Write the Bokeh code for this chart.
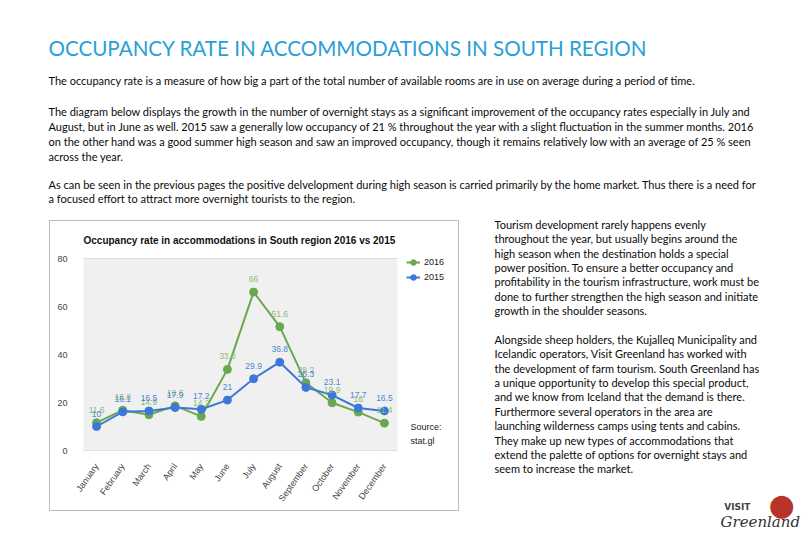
import math
from bokeh.plotting import figure
from bokeh.models import (Range1d, FixedTicker, Label, BoxAnnotation,
                          Legend, LegendItem, ColumnDataSource)
from bokeh.embed import file_html
from bokeh.resources import INLINE

# ---------------- data ----------------
months = ["January", "February", "March", "April", "May", "June", "July",
          "August", "September", "October", "November", "December"]
occ_2016 = [11.6, 16.8, 14.9, 18.6, 14.2, 33.8, 66, 51.6, 28.2, 19.9, 16.0, 11.4]
occ_2015 = [10, 16.1, 16.5, 17.9, 17.2, 21, 29.9, 36.8, 26.3, 23.1, 17.7, 16.5]
y_ticks = [0, 20, 40, 60, 80]
series_names = ["2016", "2015"]

page_title = "OCCUPANCY RATE IN ACCOMMODATIONS IN SOUTH REGION"
chart_title = "Occupancy rate in accommodations in South region 2016 vs 2015"
source_lines = ["Source:", "stat.gl"]
body_lines = [
    "The occupancy rate is a measure of how big a part of the total number of available rooms are in use on average during a period of time.",
    "The diagram below displays the growth in the number of overnight stays as a significant improvement of the occupancy rates especially in July and",
    "August, but in June as well. 2015 saw a generally low occupancy of 21 % throughout the year with a slight fluctuation in the summer months. 2016",
    "on the other hand was a good summer high season and saw an improved occupancy, though it remains relatively low with an average of 25 % seen",
    "across the year.",
    "As can be seen in the previous pages the positive delvelopment during high season is carried primarily by the home market. Thus there is a need for",
    "a focused effort to attract more overnight tourists to the region.",
]
side_lines = [
    "Tourism development rarely happens evenly",
    "throughout the year, but usually begins around the",
    "high season when the destination holds a special",
    "power position. To ensure a better occupancy and",
    "profitability in the tourism infrastructure, work must be",
    "done to further strengthen the high season and initiate",
    "growth in the shoulder seasons.",
    "Alongside sheep holders, the Kujalleq Municipality and",
    "Icelandic operators, Visit Greenland has worked with",
    "the development of farm tourism. South Greenland has",
    "a unique opportunity to develop this special product,",
    "and we know from Iceland that the demand is there.",
    "Furthermore several operators in the area are",
    "launching wilderness camps using tents and cabins.",
    "They make up new types of accommodations that",
    "extend the palette of options for overnight stays and",
    "seem to increase the market.",
]

# ---------------- layout constants (page pixels) ----------------
W, H = 806, 536
GREEN = "#6aa84f"
BLUE = "#3c78d8"
BODY_FONT = "Lato"
CHART_FONT = "Liberation Sans"

# plot area of the embedded chart, in page pixels
PA_L, PA_R, PA_T, PA_B = 83, 397, 258, 450
n = len(months)
step = (PA_R - PA_L) / n
x0_px = PA_L + step / 2                     # pixel of first category
ypx = (PA_B - PA_T) / (y_ticks[-1] - y_ticks[0])  # pixels per unit

x_range = Range1d(-x0_px / step, (W - x0_px) / step)
y_range = Range1d(-(H - PA_B) / ypx, PA_B / ypx)

p = figure(width=W, height=H, output_backend="svg", toolbar_location=None,
           x_range=x_range, y_range=y_range,
           min_border=0, min_border_left=0, min_border_right=0,
           min_border_top=0, min_border_bottom=0)
p.background_fill_color = "white"
p.border_fill_color = "white"
p.outline_line_color = None
p.grid.visible = False

idx = list(range(n))

# plot-area background and gridlines
p.add_layout(BoxAnnotation(left=-0.5, right=n - 0.5, bottom=y_ticks[0], top=y_ticks[-1],
                           fill_color="#f0f0f0", fill_alpha=1, line_color=None,
                           level="underlay"))
p.segment(x0=[-0.5] * len(y_ticks), x1=[n - 0.5] * len(y_ticks), y0=y_ticks, y1=y_ticks,
          line_color="#cccccc", line_width=1, level="underlay")

# axes fixed inside the page
p.yaxis.fixed_location = -0.5
p.yaxis.ticker = FixedTicker(ticks=y_ticks)
p.yaxis.axis_line_color = None
p.yaxis.major_tick_line_color = None
p.yaxis.minor_tick_line_color = None
p.yaxis.major_label_standoff = 10
p.yaxis.major_label_text_font = CHART_FONT
p.yaxis.major_label_text_font_size = "9px"
p.yaxis.major_label_text_color = "#444444"

p.xaxis.fixed_location = y_ticks[0]
p.xaxis.ticker = FixedTicker(ticks=idx)
p.xaxis.major_label_overrides = {i: m for i, m in zip(idx, months)}
p.xaxis.axis_line_color = None
p.xaxis.major_tick_line_color = None
p.xaxis.minor_tick_line_color = None
p.xaxis.major_label_orientation = math.radians(55)
p.xaxis.major_label_standoff = 8
p.xaxis.major_label_text_font = CHART_FONT
p.xaxis.major_label_text_font_size = "9px"
p.xaxis.major_label_text_color = "#444444"

src = ColumnDataSource(dict(
    i=idx, a=occ_2016, b=occ_2015,
    ta=[f"{v:g}" for v in occ_2016], tb=[f"{v:g}" for v in occ_2015]))

la = p.line("i", "a", source=src, line_color=GREEN, line_width=2)
sa = p.scatter("i", "a", source=src, size=8, fill_color=GREEN, line_color=GREEN)
lb = p.line("i", "b", source=src, line_color=BLUE, line_width=2)
sb = p.scatter("i", "b", source=src, size=8, fill_color=BLUE, line_color=BLUE)

p.text("i", "a", text="ta", source=src, y_offset=-13, text_align="center",
       text_baseline="middle", text_font_size="8.5px", text_color="#8dbb72",
       text_font={"value": CHART_FONT})
p.text("i", "b", text="tb", source=src, y_offset=-13, text_align="center",
       text_baseline="middle", text_font_size="8.5px", text_color="#4f84d6",
       text_font={"value": CHART_FONT})

LEG_X, LEG_TOP, LEG_ROW = 406, 255, 14
legend = Legend(items=[LegendItem(label=series_names[0], renderers=[la, sa]),
                       LegendItem(label=series_names[1], renderers=[lb, sb])],
                location=(LEG_X, H - (LEG_TOP + 2 * LEG_ROW + 1)),
                padding=0, margin=0, spacing=1,
                label_height=LEG_ROW, glyph_height=LEG_ROW, glyph_width=14,
                label_standoff=4, label_text_font=CHART_FONT,
                label_text_font_size="9px", label_text_color="#222222",
                border_line_color=None, background_fill_alpha=0)
p.add_layout(legend, "center")


def put(x, y, text, size, color="#111111", font=BODY_FONT, style="normal", align="left"):
    p.add_layout(Label(x=x, y=H - y, x_units="screen", y_units="screen",
                       text=text, text_font=font, text_font_size=size,
                       text_color=color, text_font_style=style,
                       text_align=align, text_baseline="middle"))


# chart frame border
p.add_layout(BoxAnnotation(left=49, right=458, top=H - 220, bottom=H - 510,
                           left_units="screen", right_units="screen",
                           top_units="screen", bottom_units="screen",
                           fill_alpha=0, line_color="#222222", line_width=1))

put(48, 47, page_title, "20.6px", color="#2a9fd6")
body_y = [80, 111, 126, 141, 156, 184, 198]
for yy, t in zip(body_y, body_lines):
    put(48, yy, t, "11px", color="#0a0a0a")
side_y = [224, 238, 253, 267, 281, 296, 310, 339, 353, 368, 382, 396, 411, 425, 440, 454, 468]
for yy, t in zip(side_y, side_lines):
    put(494, yy, t, "11px", color="#0a0a0a")

put(83, 240, chart_title, "10px", color="#111111", font=CHART_FONT, style="bold")
put(410, 426, source_lines[0], "9px", color="#222222", font=CHART_FONT)
put(410, 440, source_lines[1], "9px", color="#222222", font=CHART_FONT)

# logo
put(781, 504, "\u25CF", "30px", color="#b8342a", font="DejaVu Sans", align="center")
put(750, 506, "VISIT", "9px", color="#444444", font="DejaVu Sans", style="bold", align="right")
put(720, 521, "Greenland", "15px", color="#333333", font="DejaVu Serif", style="italic")

open("out.html", "w").write(file_html(p, INLINE))
